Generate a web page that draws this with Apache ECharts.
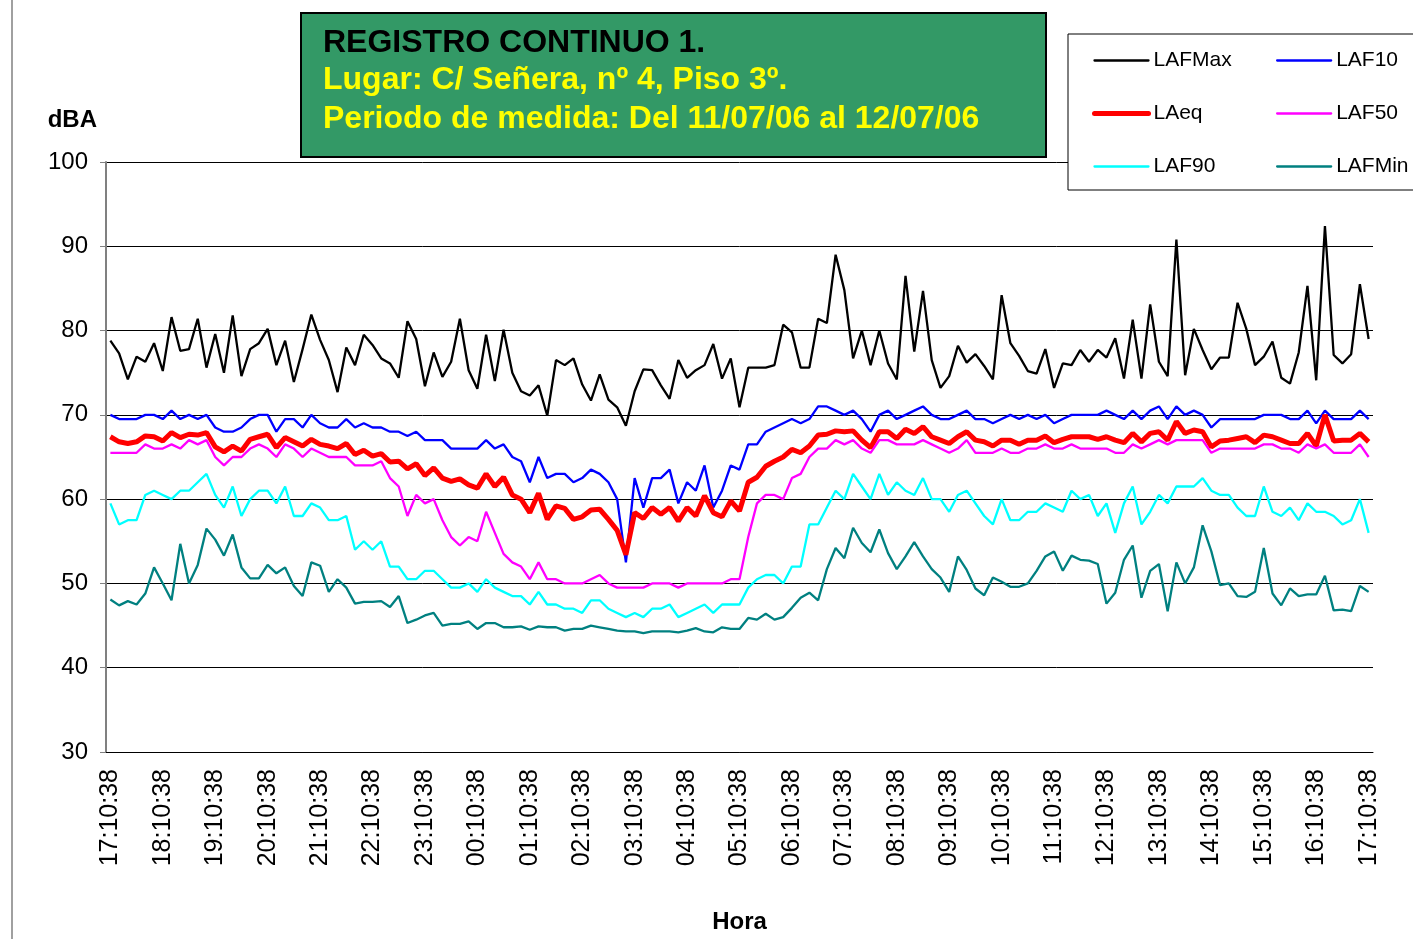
<!DOCTYPE html>
<html>
<head>
<meta charset="utf-8">
<title>Registro continuo 1</title>
<script src="https://cdn.jsdelivr.net/npm/echarts@6/dist/echarts.min.js"></script>
<style>
html, body { margin: 0; padding: 0; background: #ffffff; }
#chart { width: 1413px; height: 939px; }
</style>
</head>
<body>
<div id="chart"></div>
<script>
// lecturas cada 10 minutos, desde las 17:10:38 del 11/07/06 hasta las 17:10:38 del 12/07/06
var horaInicio = [17, 10, 38]
var pasoMinutos = 10
var numLecturas = 145

// niveles en dBA
var lafMax = [
  78.8, 77.3, 74.2, 76.9, 76.3, 78.5, 75.2, 81.6, 77.6, 77.8,
  81.4, 75.6, 79.6, 75.0, 81.8, 74.6, 77.8, 78.5, 80.2, 75.9,
  78.8, 73.9, 77.8, 81.9, 78.9, 76.5, 72.7, 78.0, 75.9, 79.5,
  78.3, 76.7, 76.1, 74.4, 81.1, 79.0, 73.4, 77.4, 74.5, 76.3,
  81.4, 75.3, 73.1, 79.5, 74.0, 80.1, 75.0, 72.8, 72.3, 73.5,
  69.9, 76.5, 75.9, 76.7, 73.6, 71.7, 74.8, 71.8, 70.9, 68.7,
  72.8, 75.4, 75.3, 73.5, 71.9, 76.5, 74.4, 75.3, 75.9, 78.4,
  74.3, 76.7, 70.9, 75.6, 75.6, 75.6, 75.9, 80.7, 79.8, 75.6,
  75.6, 81.4, 80.9, 89.0, 84.8, 76.7, 80.0, 75.9, 80.0, 76.1,
  74.2, 86.5, 77.5, 84.7, 76.5, 73.2, 74.6, 78.2, 76.2, 77.2,
  75.8, 74.2, 84.2, 78.5, 77.0, 75.2, 74.9, 77.8, 73.2, 76.1,
  75.9, 77.7, 76.3, 77.7, 76.8, 79.1, 74.3, 81.3, 74.3, 83.1,
  76.3, 74.6, 90.8, 74.7, 80.2, 77.7, 75.4, 76.8, 76.8, 83.3,
  80.2, 75.9, 76.9, 78.7, 74.4, 73.7, 77.4, 85.3, 74.1, 92.4,
  77.1, 76.1, 77.2, 85.5, 79.0
]
var laf10 = [
  70.0, 69.5, 69.5, 69.5, 70.0, 70.0, 69.5, 70.5, 69.5, 70.0,
  69.5, 70.0, 68.5, 68.0, 68.0, 68.5, 69.5, 70.0, 70.0, 68.0,
  69.5, 69.5, 68.5, 70.0, 69.0, 68.5, 68.5, 69.5, 68.5, 69.0,
  68.5, 68.5, 68.0, 68.0, 67.5, 68.0, 67.0, 67.0, 67.0, 66.0,
  66.0, 66.0, 66.0, 67.0, 66.0, 66.5, 65.0, 64.5, 62.0, 65.0,
  62.5, 63.0, 63.0, 62.0, 62.5, 63.5, 63.0, 62.0, 60.0, 52.5,
  62.5, 59.0, 62.5, 62.5, 63.5, 59.5, 62.0, 61.0, 64.0, 59.0,
  61.0, 64.0, 63.5, 66.5, 66.5, 68.0, 68.5, 69.0, 69.5, 69.0,
  69.5, 71.0, 71.0, 70.5, 70.0, 70.5, 69.5, 68.0, 70.0, 70.5,
  69.5, 70.0, 70.5, 71.0, 70.0, 69.5, 69.5, 70.0, 70.5, 69.5,
  69.5, 69.0, 69.5, 70.0, 69.5, 70.0, 69.5, 70.0, 69.0, 69.5,
  70.0, 70.0, 70.0, 70.0, 70.5, 70.0, 69.5, 70.5, 69.5, 70.5,
  71.0, 69.5, 71.0, 70.0, 70.5, 70.0, 68.5, 69.5, 69.5, 69.5,
  69.5, 69.5, 70.0, 70.0, 70.0, 69.5, 69.5, 70.5, 69.0, 70.5,
  69.5, 69.5, 69.5, 70.5, 69.5
]
var laeq = [
  67.4, 66.8, 66.6, 66.8, 67.5, 67.4, 66.9, 67.9, 67.3, 67.7,
  67.6, 67.9, 66.2, 65.6, 66.3, 65.7, 67.1, 67.4, 67.7, 66.1,
  67.3, 66.8, 66.3, 67.1, 66.5, 66.3, 66.0, 66.6, 65.3, 65.8,
  65.1, 65.4, 64.4, 64.5, 63.6, 64.2, 62.8, 63.7, 62.5, 62.1,
  62.4, 61.7, 61.3, 63.0, 61.5, 62.6, 60.5, 60.0, 58.4, 60.7,
  57.6, 59.2, 58.9, 57.6, 57.9, 58.7, 58.8, 57.6, 56.3, 53.4,
  58.4, 57.7, 59.0, 58.2, 59.0, 57.4, 59.0, 58.0, 60.4, 58.4,
  57.9, 59.8, 58.6, 62.0, 62.6, 63.9, 64.5, 65.0, 65.9, 65.5,
  66.3, 67.6, 67.7, 68.1, 68.0, 68.1, 67.0, 66.1, 68.0, 68.0,
  67.2, 68.3, 67.8, 68.6, 67.4, 67.0, 66.6, 67.4, 68.0, 67.0,
  66.8, 66.3, 67.0, 67.0, 66.5, 67.0, 67.0, 67.5, 66.7, 67.1,
  67.4, 67.4, 67.4, 67.1, 67.4, 67.0, 66.7, 67.8, 66.8, 67.8,
  68.0, 67.0, 69.2, 67.8, 68.2, 68.0, 66.2, 66.9, 67.0, 67.2,
  67.4, 66.7, 67.6, 67.4, 67.0, 66.6, 66.6, 67.8, 66.3, 70.0,
  66.9, 67.0, 67.0, 67.8, 66.8
]
var laf50 = [
  65.5, 65.5, 65.5, 65.5, 66.5, 66.0, 66.0, 66.5, 66.0, 67.0,
  66.5, 67.0, 65.0, 64.0, 65.0, 65.0, 66.0, 66.5, 66.0, 65.0,
  66.5, 66.0, 65.0, 66.0, 65.5, 65.0, 65.0, 65.0, 64.0, 64.0,
  64.0, 64.5, 62.5, 61.5, 58.0, 60.5, 59.5, 60.0, 57.5, 55.5,
  54.5, 55.5, 55.0, 58.5, 56.0, 53.5, 52.5, 52.0, 50.5, 52.5,
  50.5, 50.5, 50.0, 50.0, 50.0, 50.5, 51.0, 50.0, 49.5, 49.5,
  49.5, 49.5, 50.0, 50.0, 50.0, 49.5, 50.0, 50.0, 50.0, 50.0,
  50.0, 50.5, 50.5, 55.5, 59.5, 60.5, 60.5, 60.0, 62.5, 63.0,
  65.0, 66.0, 66.0, 67.0, 66.5, 67.0, 66.0, 65.5, 67.0, 67.0,
  66.5, 66.5, 66.5, 67.0, 66.5, 66.0, 65.5, 66.0, 67.0, 65.5,
  65.5, 65.5, 66.0, 65.5, 65.5, 66.0, 66.0, 66.5, 66.0, 66.0,
  66.5, 66.0, 66.0, 66.0, 66.0, 65.5, 65.5, 66.5, 66.0, 66.5,
  67.0, 66.5, 67.0, 67.0, 67.0, 67.0, 65.5, 66.0, 66.0, 66.0,
  66.0, 66.0, 66.5, 66.5, 66.0, 66.0, 65.5, 66.5, 66.0, 66.5,
  65.5, 65.5, 65.5, 66.5, 65.0
]
var laf90 = [
  59.5, 57.0, 57.5, 57.5, 60.5, 61.0, 60.5, 60.0, 61.0, 61.0,
  62.0, 63.0, 60.5, 59.0, 61.5, 58.0, 60.0, 61.0, 61.0, 59.5,
  61.5, 58.0, 58.0, 59.5, 59.0, 57.5, 57.5, 58.0, 54.0, 55.0,
  54.0, 55.0, 52.0, 52.0, 50.5, 50.5, 51.5, 51.5, 50.5, 49.5,
  49.5, 50.0, 49.0, 50.5, 49.5, 49.0, 48.5, 48.5, 47.5, 49.0,
  47.5, 47.5, 47.0, 47.0, 46.5, 48.0, 48.0, 47.0, 46.5, 46.0,
  46.5, 46.0, 47.0, 47.0, 47.5, 46.0, 46.5, 47.0, 47.5, 46.5,
  47.5, 47.5, 47.5, 49.5, 50.5, 51.0, 51.0, 50.0, 52.0, 52.0,
  57.0, 57.0, 59.0, 61.0, 60.0, 63.0, 61.5, 60.0, 63.0, 60.5,
  62.0, 61.0, 60.5, 62.5, 60.0, 60.0, 58.5, 60.5, 61.0, 59.5,
  58.0, 57.0, 60.0, 57.5, 57.5, 58.5, 58.5, 59.5, 59.0, 58.5,
  61.0, 60.0, 60.5, 58.0, 59.5, 56.0, 59.5, 61.5, 57.0, 58.5,
  60.5, 59.5, 61.5, 61.5, 61.5, 62.5, 61.0, 60.5, 60.5, 59.0,
  58.0, 58.0, 61.5, 58.5, 58.0, 59.0, 57.5, 59.5, 58.5, 58.5,
  58.0, 57.0, 57.5, 60.0, 56.0
]
var lafMin = [
  48.1, 47.4, 47.9, 47.5, 48.8, 51.9, 50.0, 48.0, 54.7, 50.0,
  52.2, 56.5, 55.2, 53.3, 55.8, 51.9, 50.6, 50.6, 52.2, 51.2,
  51.9, 49.7, 48.5, 52.5, 52.1, 49.0, 50.5, 49.5, 47.6, 47.8,
  47.8, 47.9, 47.2, 48.5, 45.3, 45.7, 46.2, 46.5, 45.0, 45.2,
  45.2, 45.5, 44.6, 45.3, 45.3, 44.8, 44.8, 44.9, 44.5, 44.9,
  44.8, 44.8, 44.4, 44.6, 44.6, 45.0, 44.8, 44.6, 44.4, 44.3,
  44.3, 44.1, 44.3, 44.3, 44.3, 44.2, 44.4, 44.7, 44.3, 44.2,
  44.8, 44.6, 44.6, 45.9, 45.7, 46.4, 45.7, 46.0, 47.1, 48.3,
  48.9, 48.0, 51.7, 54.2, 53.0, 56.6, 54.8, 53.7, 56.4, 53.6,
  51.7, 53.2, 54.9, 53.2, 51.7, 50.7, 49.0, 53.2, 51.6, 49.4,
  48.6, 50.7, 50.2, 49.6, 49.6, 50.0, 51.5, 53.2, 53.8, 51.5,
  53.3, 52.8, 52.7, 52.3, 47.6, 48.9, 52.8, 54.5, 48.3, 51.5,
  52.3, 46.7, 52.5, 50.0, 51.9, 56.9, 53.8, 49.8, 50.0, 48.5,
  48.4, 49.0, 54.2, 48.8, 47.4, 49.4, 48.5, 48.7, 48.7, 50.9,
  46.8, 46.9, 46.7, 49.7, 49.0
]

var ejeY = { min: 30, max: 100, intervalo: 10 }

function dosCifras (n) {
  return (n < 10 ? '0' : '') + n
}

// etiquetas de hora del eje X
var horas = []
for (var i = 0; i < numLecturas; i++) {
  var seg = horaInicio[0] * 3600 + horaInicio[1] * 60 + horaInicio[2] + i * pasoMinutos * 60
  seg = seg % 86400
  var h = Math.floor(seg / 3600)
  var m = Math.floor((seg % 3600) / 60)
  var s = seg % 60
  horas.push(dosCifras(h) + ':' + dosCifras(m) + ':' + dosCifras(s))
}

var fuente = '"Liberation Sans", Arial, sans-serif'

var series = [
  { name: 'LAFMax', data: lafMax, color: '#000000', width: 2.3 },
  { name: 'LAF10', data: laf10, color: '#0000ff', width: 2.3 },
  { name: 'LAeq', data: laeq, color: '#ff0000', width: 5 },
  { name: 'LAF50', data: laf50, color: '#ff00ff', width: 2.3 },
  { name: 'LAF90', data: laf90, color: '#00ffff', width: 2.3 },
  { name: 'LAFMin', data: lafMin, color: '#008080', width: 2.3 }
]

function leyenda (left, nombres) {
  return {
    orient: 'vertical',
    left: left,
    top: 50,
    padding: 0,
    itemWidth: 54,
    itemHeight: 20,
    itemGap: 32,
    data: nombres,
    itemStyle: { opacity: 0 },
    lineStyle: { width: 'inherit', cap: 'round' },
    textStyle: { fontSize: 21, lineHeight: 20, color: '#000', fontFamily: fuente }
  }
}

var chart = echarts.init(document.getElementById('chart'))
chart.setOption({
  animation: false,
  backgroundColor: '#ffffff',
  textStyle: { fontFamily: fuente },
  grid: { left: 106, right: 40, top: 162, bottom: 186 },
  legend: [
    leyenda(1092, ['LAFMax', 'LAeq', 'LAF90']),
    leyenda(1276, ['LAF10', 'LAF50', 'LAFMin'])
  ],
  graphic: [
    {
      type: 'line',
      shape: { x1: 12, y1: 0, x2: 12, y2: 939 },
      style: { stroke: '#808080', lineWidth: 1.5 }
    },
    {
      type: 'rect',
      shape: { x: 1068, y: 34, width: 400, height: 156 },
      style: { fill: '#ffffff', stroke: '#000000', lineWidth: 1 },
      z: 1
    },
    {
      type: 'rect',
      shape: { x: 301, y: 13, width: 745, height: 144 },
      style: { fill: '#339966', stroke: '#000000', lineWidth: 2 },
      z: 1
    },
    {
      type: 'text', x: 323, y: 43, z: 2,
      style: { text: 'REGISTRO CONTINUO 1.', fill: '#000000', font: 'bold 32px ' + fuente, verticalAlign: 'middle' }
    },
    {
      type: 'text', x: 323, y: 80, z: 2,
      style: { text: 'Lugar: C/ Señera, nº 4, Piso 3º.', fill: '#ffff00', font: 'bold 32px ' + fuente, verticalAlign: 'middle' }
    },
    {
      type: 'text', x: 323, y: 119, z: 2,
      style: { text: 'Periodo de medida: Del 11/07/06 al 12/07/06', fill: '#ffff00', font: 'bold 32px ' + fuente, verticalAlign: 'middle' }
    }
  ],
  xAxis: {
    type: 'category',
    data: horas,
    boundaryGap: true,
    name: 'Hora',
    nameLocation: 'middle',
    nameGap: 158,
    nameTextStyle: { fontSize: 24, fontWeight: 'bold', color: '#000' },
    axisLine: { lineStyle: { color: '#000', width: 1 } },
    axisTick: { interval: 0, length: 6, lineStyle: { color: '#000' } },
    axisLabel: { interval: 5, rotate: 90, fontSize: 25, color: '#000', margin: 17 },
    splitLine: { show: false }
  },
  yAxis: {
    type: 'value',
    min: ejeY.min,
    max: ejeY.max,
    interval: ejeY.intervalo,
    name: 'dBA',
    nameLocation: 'end',
    nameGap: 30,
    nameTextStyle: { fontSize: 24, fontWeight: 'bold', color: '#000', align: 'right', padding: [0, 9, 0, 0] },
    axisLine: { show: true, lineStyle: { color: '#808080', width: 2 } },
    axisTick: { show: true, length: 6, lineStyle: { color: '#808080' } },
    axisLabel: { fontSize: 24, color: '#000', margin: 18 },
    splitLine: { lineStyle: { color: '#000', width: 1 } }
  },
  series: series.map(function (s) {
    return {
      name: s.name,
      type: 'line',
      data: s.data,
      symbol: 'none',
      color: s.color,
      lineStyle: { color: s.color, width: s.width },
      z: 3
    }
  })
})
</script>
</body>
</html>
